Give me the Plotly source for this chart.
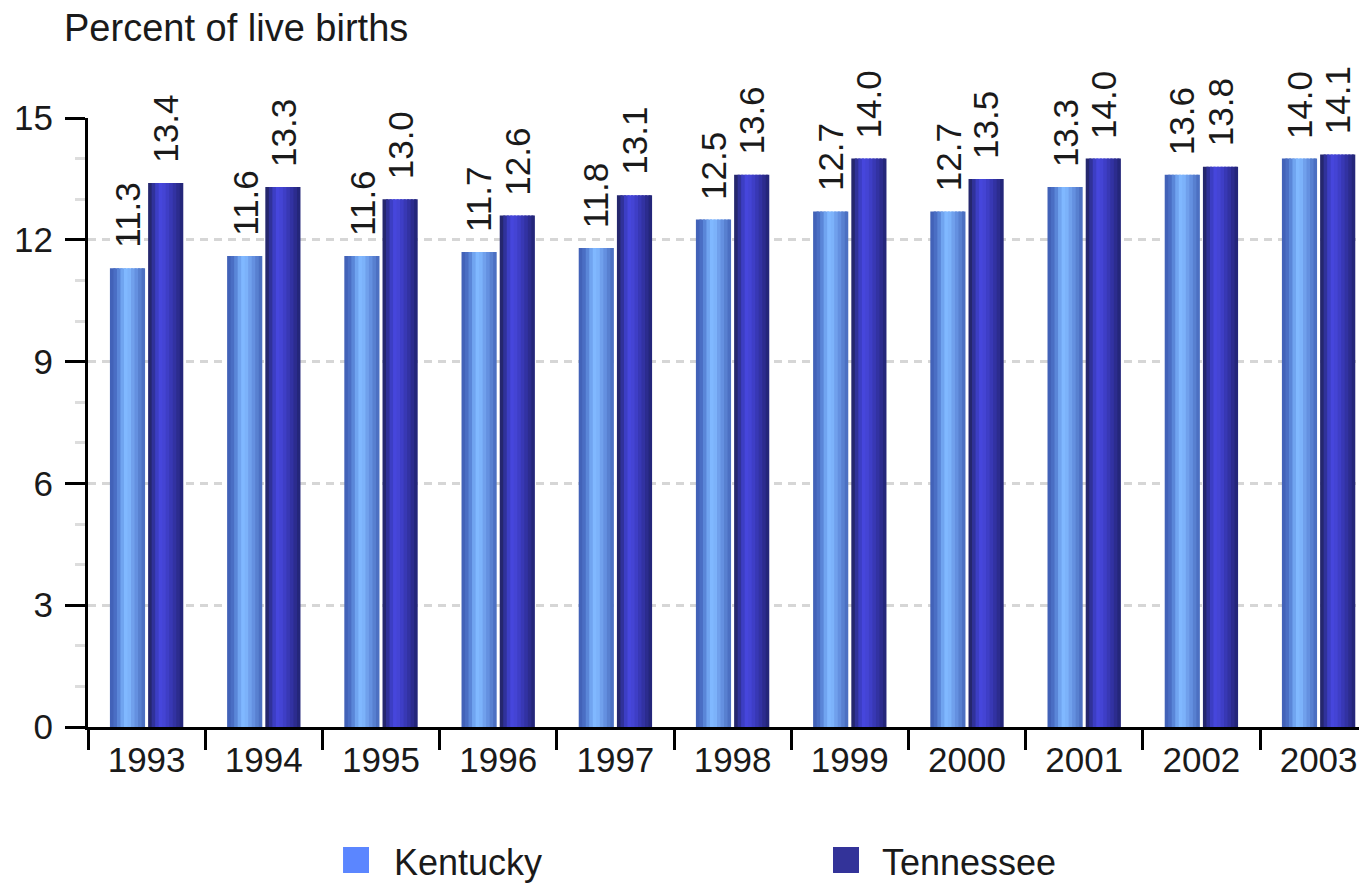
import plotly.graph_objects as go

years = ["1993", "1994", "1995", "1996", "1997", "1998", "1999", "2000", "2001", "2002", "2003"]
kentucky = [11.3, 11.6, 11.6, 11.7, 11.8, 12.5, 12.7, 12.7, 13.3, 13.6, 14.0]
tennessee = [13.4, 13.3, 13.0, 12.6, 13.1, 13.6, 14.0, 13.5, 14.0, 13.8, 14.1]
y_ticks = [0, 3, 6, 9, 12, 15]

FONT = "Liberation Sans, Arial, sans-serif"
TXT = "#1a1a1a"

ky_grad = ['#4262b8', '#4a6ec4', '#5a86d8', '#70a4f0', '#80b8ff',
           '#7cb2fa', '#70a0ec', '#6490e0', '#5880d0', '#4c70c2']
tn_grad = ['#25276e', '#30329a', '#3c3ec4', '#4646dc', '#4444d4',
           '#3e3ec6', '#3838b4', '#3232a2', '#2c2c8e', '#24267a']

BW = 0.30
series = [
    ("Kentucky", kentucky, ky_grad, -0.313, "#5b86ff"),
    ("Tennessee", tennessee, tn_grad, 0.013, "#333399"),
]

fig = go.Figure()
for name, vals, grad, off, _ in series:
    n = len(grad)
    sw = BW / n
    for i, c in enumerate(grad):
        w = sw * 1.6 if i < n - 1 else sw
        fig.add_trace(go.Bar(
            x=years, y=vals, width=w, offset=off + i * sw,
            marker=dict(color=c, line=dict(width=0)),
            showlegend=False, hoverinfo="skip",
        ))

annotations = []
for name, vals, grad, off, _ in series:
    for i, v in enumerate(vals):
        annotations.append(dict(
            x=i + off + BW / 2, y=v, xref="x", yref="y",
            text=f"{v:.1f}", textangle=-90, showarrow=False,
            yanchor="bottom", xanchor="center", yshift=18,
            font=dict(family=FONT, size=35, color=TXT),
        ))

# title
annotations.append(dict(
    x=-0.020, y=1.148, xref="paper", yref="paper", xanchor="left", yanchor="middle",
    text="Percent of live births", showarrow=False,
    font=dict(family=FONT, size=38, color=TXT),
))

# legend
shapes = []
leg = [("Kentucky", "#5b86ff", 0.1994, 0.2377), ("Tennessee", "#333399", 0.5825, 0.6192)]
for name, col, xs, xt in leg:
    shapes.append(dict(type="rect", xref="paper", yref="paper",
                       x0=xs, x1=xs + 0.0203, y0=-0.197, y1=-0.2397,
                       fillcolor=col, line=dict(width=0)))
    annotations.append(dict(
        x=xt, y=-0.2217, xref="paper", yref="paper", xanchor="left", yanchor="middle",
        text=name, showarrow=False, font=dict(family=FONT, size=36, color=TXT),
    ))

fig.update_layout(
    width=1359, height=875,
    margin=dict(l=80, r=0, t=110, b=156),
    paper_bgcolor="white", plot_bgcolor="white",
    barmode="overlay",
    showlegend=False,
    annotations=annotations,
    shapes=shapes,
    xaxis=dict(
        type="category", range=[-0.5, 10.413], automargin=False,
        showline=True, linecolor="black", linewidth=3,
        ticks="outside", tickson="boundaries", ticklen=20, tickwidth=3, tickcolor="black",
        tickfont=dict(family=FONT, size=35, color=TXT),
        showgrid=False, zeroline=False,
    ),
    yaxis=dict(
        range=[0, 15], tickvals=y_ticks, automargin=False,
        showline=True, linecolor="black", linewidth=3,
        ticks="outside", ticklen=20, tickwidth=3, tickcolor="black",
        ticklabelstandoff=5,
        tickfont=dict(family=FONT, size=35, color=TXT),
        showgrid=True, gridcolor="#d6d6d6", gridwidth=3, griddash="8px,6px",
        zeroline=False,
        minor=dict(dtick=1, ticks="outside", ticklen=10, tickwidth=3,
                   tickcolor="#dddddd", showgrid=False),
    ),
)

fig.write_html("out.html")
